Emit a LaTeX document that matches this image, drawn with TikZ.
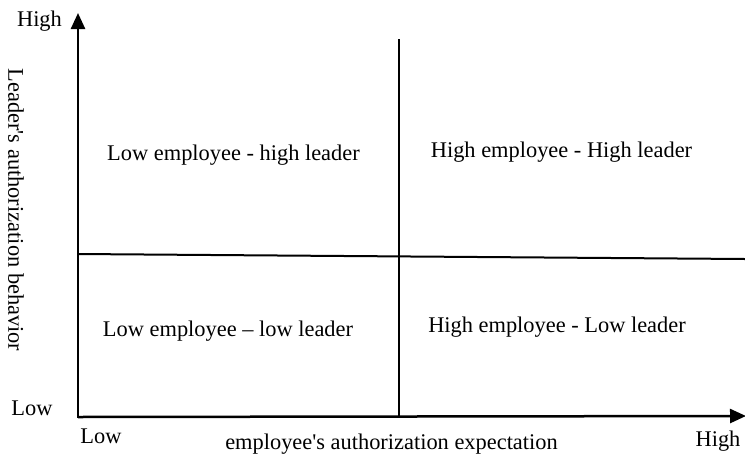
\documentclass[tikz,border=0pt]{standalone}
\usepackage{fontspec}
\setmainfont{Liberation Serif}
\usepackage{tikz}
\usetikzlibrary{arrows.meta}

\tikzset{
  axis/.style={line width=1.25pt,-{Triangle[width=7pt,length=8pt]}},
  divider/.style={line width=1pt},
  label/.style={anchor=base,inner sep=0.75pt,font=\fontsize{11.2}{13.4}\selectfont},
}

\begin{document}
\begin{tikzpicture}[x=0.5pt,y=0.5pt,yscale=-1,xscale=1]
\useasboundingbox (0,0) rectangle (745,456);

% axes
\coordinate (origin) at (78,417);
\coordinate (ytop) at (78,13);
\coordinate (xend) at (746,416);
\draw [axis] (78,418) -- (ytop);
\draw [axis] (origin) -- (xend);

% quadrant dividers
\coordinate (vtop) at (399,39);
\coordinate (vbot) at (399,417);
\coordinate (hleft) at (78,254);
\coordinate (hright) at (745,259);
\draw [divider] (vtop) -- (vbot);
\draw [divider] (hleft) -- (hright);

% Text Node
\node (yhigh) at (39.5,26.7) [label] {High};
% Text Node
\node (ylow) at (32,415.7) [label] {Low};
% Text Node
\node (xlow) at (101,443) [label] {Low};
% Text Node
\node (xhigh) at (718,446.7) [label] {High};
% Text Node
\node (xtitle) at (391.5,449) [label] {employee\textquotesingle s authorization expectation};
% Text Node
\node (ytitle) at (16,210) [label,anchor=center,rotate=-90] {Leader\textquotesingle s authorization behavior};

% Text Node
\node (lowhigh) at (233.5,160.7) [label] {Low employee - high leader};
% Text Node
\node (highhigh) at (561.5,157.3) [label] {High employee - High leader};
% Text Node
\node (lowlow) at (228,336.7) [label] {Low employee – low leader};
% Text Node
\node (highlow) at (557,332.3) [label] {High employee - Low leader};

\end{tikzpicture}
\end{document}
